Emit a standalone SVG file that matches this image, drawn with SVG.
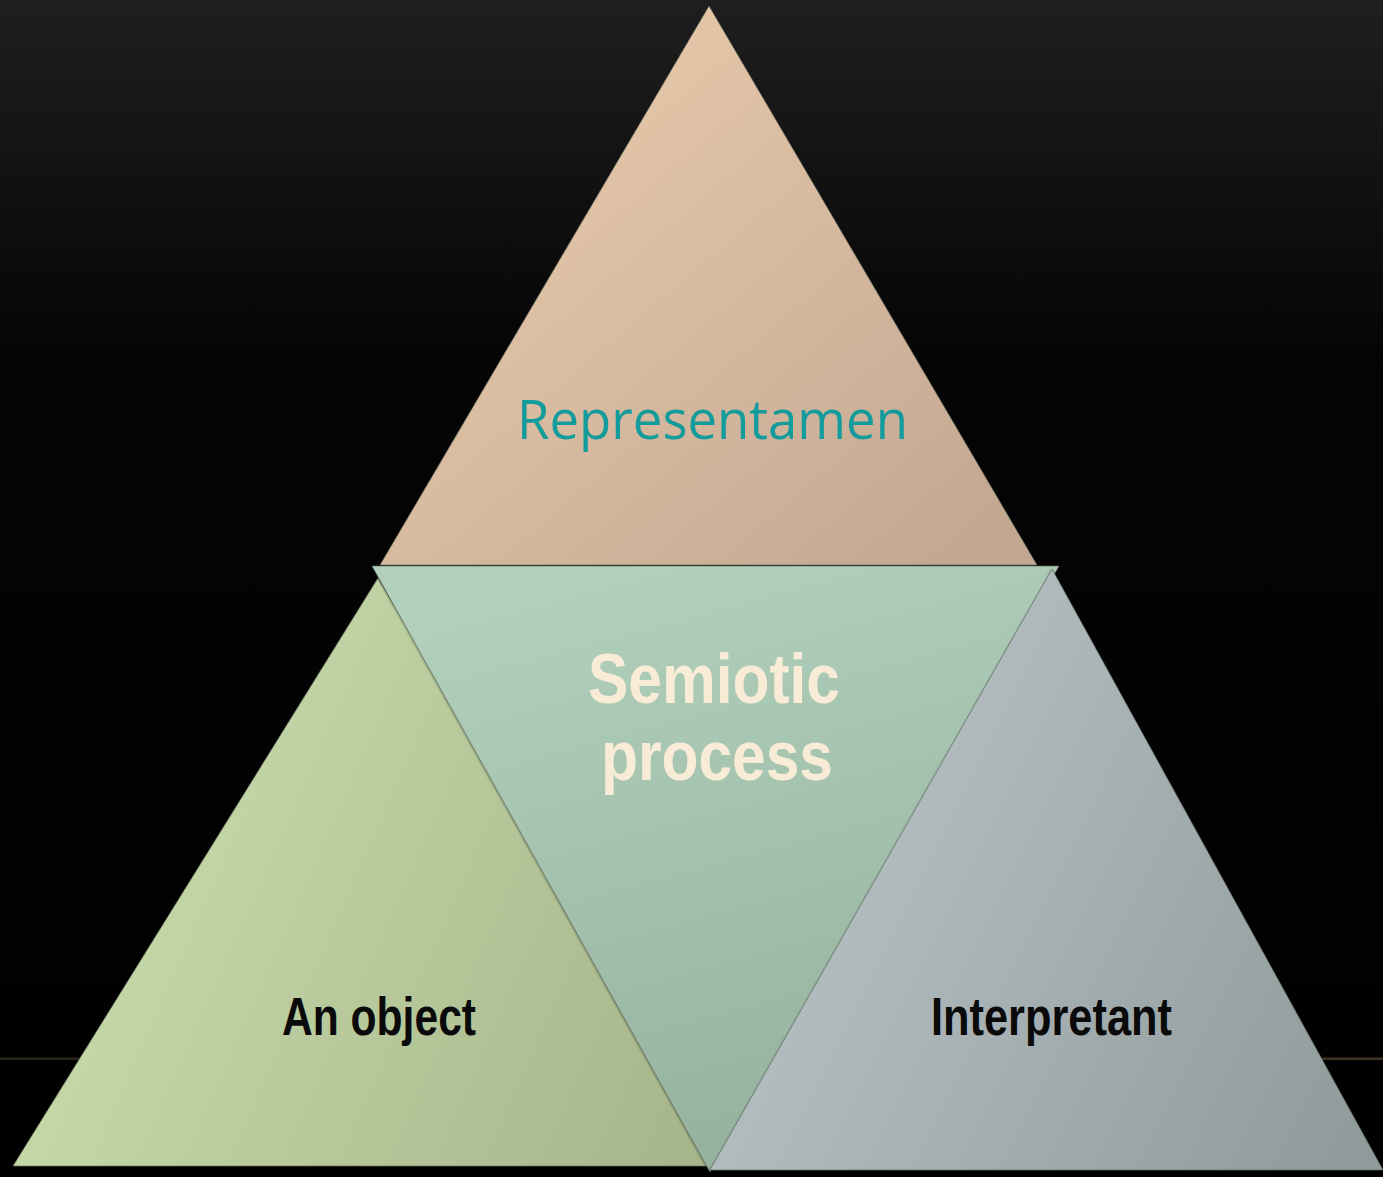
<svg xmlns="http://www.w3.org/2000/svg" width="1383" height="1177" viewBox="0 0 1383 1177">
  <defs>
    <linearGradient id="bg" x1="0" y1="0" x2="0" y2="1">
      <stop offset="0" stop-color="#1f1f1f"/>
      <stop offset="0.3" stop-color="#050505"/>
      <stop offset="1" stop-color="#000000"/>
    </linearGradient>
    <linearGradient id="rule" x1="0" y1="0" x2="1" y2="0">
      <stop offset="0" stop-color="#2a2418"/>
      <stop offset="1" stop-color="#3e3222"/>
    </linearGradient>
    <linearGradient id="gTop" x1="0.2" y1="0.2" x2="0.95" y2="0.95">
      <stop offset="0" stop-color="#e6c7a9"/>
      <stop offset="1" stop-color="#c2a791"/>
    </linearGradient>
    <linearGradient id="gLeft" x1="0.05" y1="0.5" x2="1" y2="0.85">
      <stop offset="0" stop-color="#c7dcab"/>
      <stop offset="1" stop-color="#a7b58b"/>
    </linearGradient>
    <linearGradient id="gMid" x1="0.3" y1="0" x2="0.6" y2="1">
      <stop offset="0" stop-color="#b2d1bd"/>
      <stop offset="1" stop-color="#93b19c"/>
    </linearGradient>
    <linearGradient id="gRight" x1="0.1" y1="0.5" x2="1" y2="0.9">
      <stop offset="0" stop-color="#b6c0c4"/>
      <stop offset="1" stop-color="#8f9a9a"/>
    </linearGradient>
    <filter id="soft" x="-5%" y="-5%" width="110%" height="110%">
      <feDropShadow dx="0" dy="1" stdDeviation="1.2" flood-color="#000" flood-opacity="0.45"/>
    </filter>
  </defs>
  <style>
    .tri { stroke: #5c6458; stroke-width: 1; stroke-opacity: 0.6; filter: url(#soft); }
    .lbl { font-family: "Liberation Sans", Arial, sans-serif; font-weight: bold; text-anchor: start; }
    .dark { fill: #0a0a0a; font-size: 53px; }
    .cream { fill: #f8ecd6; font-size: 70px; }
    .teal { font-family: "Open Sans", "Noto Sans", sans-serif; fill: #149b9b; font-size: 54px; }
  </style>

  <!-- backdrop -->
  <rect x="0" y="0" width="1383" height="1177" fill="url(#bg)"/>
  <rect x="0" y="1057.5" width="1383" height="2.5" fill="url(#rule)"/>

  <g id="representamen">
    <polygon class="tri" points="709,6 1037,565 380,565" fill="url(#gTop)"/>
    <text class="teal" x="517" y="439" textLength="391" lengthAdjust="spacingAndGlyphs">Representamen</text>
  </g>

  <g id="object">
    <polygon class="tri" points="378,578 720,1166 13,1166" fill="url(#gLeft)"/>
    <text class="lbl dark" x="282" y="1035" textLength="194" lengthAdjust="spacingAndGlyphs">An object</text>
  </g>

  <g id="semiotic-process">
    <polygon class="tri" points="372,566 1059,566 710,1172" fill="url(#gMid)"/>
    <text class="lbl cream" x="588" y="703" textLength="252" lengthAdjust="spacingAndGlyphs">Semiotic</text>
    <text class="lbl cream" x="601" y="780" textLength="232" lengthAdjust="spacingAndGlyphs">process</text>
  </g>

  <g id="interpretant">
    <polygon class="tri" points="1052,569 1383,1170 710,1170" fill="url(#gRight)"/>
    <text class="lbl dark" x="931" y="1035" textLength="241" lengthAdjust="spacingAndGlyphs">Interpretant</text>
  </g>

  <g id="connectors"/>
</svg>
